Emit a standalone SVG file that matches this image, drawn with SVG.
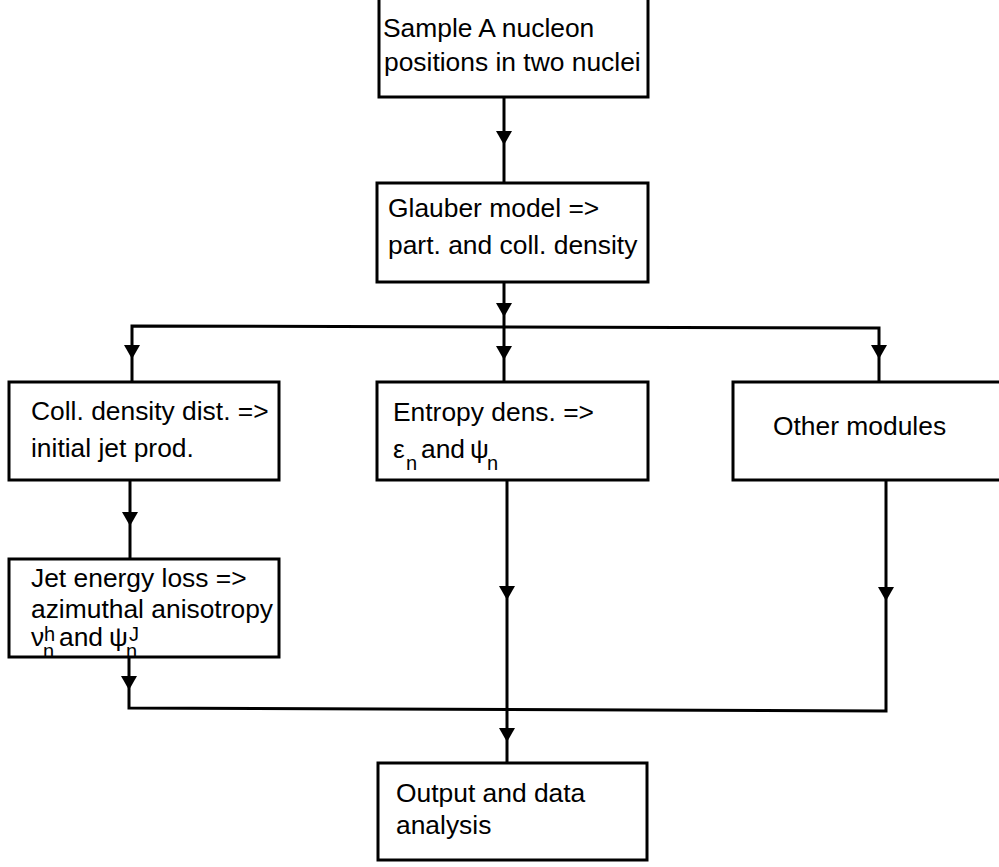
<svg xmlns="http://www.w3.org/2000/svg" width="999" height="867" viewBox="0 0 999 867">
<style>
.box{fill:#fff;stroke:#000;stroke-width:3}
.ln{fill:none;stroke:#000;stroke-width:3}
.t{font-family:"Liberation Sans",Arial,sans-serif;font-size:26.4px;fill:#000}
.s{font-family:"Liberation Sans",Arial,sans-serif;font-size:20px;fill:#000}
</style>
<defs>
<path id="ah" d="M-8,0 L8,0 L0,14 Z" fill="#000"/>
</defs>
<rect width="999" height="867" fill="#fff"/>
<g id="connectors">
<path class="ln" d="M504,97 V183"/>
<path class="ln" d="M504,282 V382"/>
<path class="ln" d="M132,382 V326 L879,328 V382"/>
<path class="ln" d="M130,480 V559"/>
<path class="ln" d="M129,657 V708 L886,711 V480"/>
<path class="ln" d="M507,480 V763"/>
<use href="#ah" x="504" y="131"/>
<use href="#ah" x="504" y="303"/>
<use href="#ah" x="504" y="346"/>
<use href="#ah" x="132" y="345"/>
<use href="#ah" x="879" y="345"/>
<use href="#ah" x="130" y="512"/>
<use href="#ah" x="129" y="676"/>
<use href="#ah" x="507" y="586"/>
<use href="#ah" x="886" y="587"/>
<use href="#ah" x="507" y="728"/>
</g>
<g id="n1">
<rect class="box" x="379" y="-2" width="269" height="99"/>
<text class="t" x="383" y="37">Sample A nucleon</text>
<text class="t" x="384" y="71">positions in two nuclei</text>
</g>
<g id="n2">
<rect class="box" x="377" y="183" width="271" height="99"/>
<text class="t" x="388" y="217">Glauber model =&gt;</text>
<text class="t" x="388" y="254">part. and coll. density</text>
</g>
<g id="n3">
<rect class="box" x="9" y="382" width="270" height="98"/>
<text class="t" x="31" y="420">Coll. density dist. =&gt;</text>
<text class="t" x="31" y="457">initial jet prod.</text>
</g>
<g id="n4">
<rect class="box" x="377" y="382" width="271" height="98"/>
<text class="t" x="393" y="421">Entropy dens. =&gt;</text>
<text class="t" x="393" y="458">ε</text>
<text class="s" x="406" y="470">n</text>
<text class="t" x="421" y="458">and</text>
<text class="t" x="470" y="458">ψ</text>
<text class="s" x="487" y="470">n</text>
</g>
<g id="n5">
<rect class="box" x="733" y="382" width="280" height="98"/>
<text class="t" x="773" y="435">Other modules</text>
</g>
<g id="n6">
<rect class="box" x="9" y="559" width="270" height="98"/>
<text class="t" x="31" y="587">Jet energy loss =&gt;</text>
<text class="t" x="31" y="618">azimuthal anisotropy</text>
<text class="t" x="31" y="646">ν</text>
<text class="s" x="43" y="658">n</text>
<text class="s" x="44" y="641">h</text>
<text class="t" x="59" y="646">and</text>
<text class="t" x="109" y="646">ψ</text>
<text class="s" x="126" y="658">n</text>
<text class="s" x="129" y="641">J</text>
</g>
<g id="n7">
<rect class="box" x="378" y="763" width="269" height="97"/>
<text class="t" x="396" y="802">Output and data</text>
<text class="t" x="396" y="834">analysis</text>
</g>
</svg>
